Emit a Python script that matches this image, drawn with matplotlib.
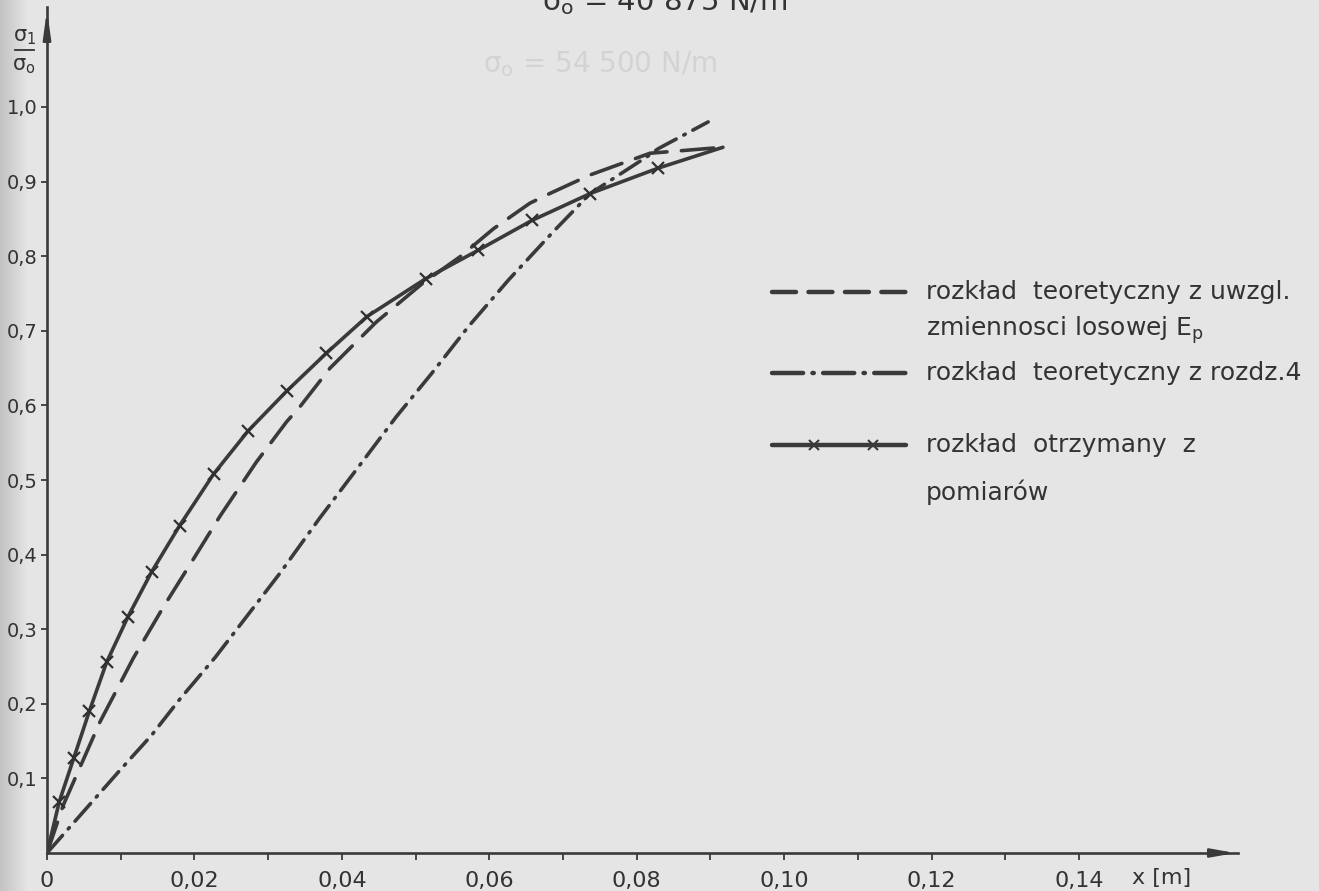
import numpy as np
import matplotlib
matplotlib.use("Agg")
import matplotlib.pyplot as plt
from matplotlib.lines import Line2D

# sigma_1/sigma_0 against distance x [m]
x_ep = [0, 0.0022, 0.0072, 0.0117, 0.0158, 0.0198, 0.0235, 0.0284, 0.0325, 0.0343,
        0.0384, 0.0447, 0.0510, 0.0560, 0.0606, 0.0655, 0.0682, 0.0737, 0.0818, 0.0917]
y_ep = [0, 0.064, 0.176, 0.261, 0.330, 0.393, 0.452, 0.524, 0.578, 0.598,
        0.650, 0.712, 0.764, 0.799, 0.837, 0.871, 0.884, 0.909, 0.938, 0.946]

x_r4 = [0, 0.0099, 0.0142, 0.0180, 0.0228, 0.0316, 0.0370, 0.0429, 0.0474, 0.0522,
        0.0572, 0.0626, 0.0687, 0.0737, 0.0818, 0.0829, 0.0897]
y_r4 = [0, 0.111, 0.158, 0.206, 0.262, 0.375, 0.449, 0.526, 0.585, 0.643,
        0.706, 0.768, 0.833, 0.884, 0.936, 0.944, 0.980]

x_meas = [0.00167, 0.00366, 0.00574, 0.0081, 0.0110, 0.0142, 0.0180, 0.0226, 0.0273,
          0.0325, 0.0379, 0.0434, 0.0514, 0.0585, 0.0658, 0.0737, 0.0829]
y_meas = [0.069, 0.128, 0.190, 0.256, 0.317, 0.377, 0.439, 0.508, 0.566,
          0.619, 0.670, 0.719, 0.770, 0.808, 0.848, 0.884, 0.918]
x_meas_end = 0.0917
y_meas_end = 0.946

xticks = [0, 0.02, 0.04, 0.06, 0.08, 0.10, 0.12, 0.14]
xticklabels = ["0", "0,02", "0,04", "0,06", "0,08", "0,10", "0,12", "0,14"]
yticks = [0.1, 0.2, 0.3, 0.4, 0.5, 0.6, 0.7, 0.8, 0.9, 1.0]
yticklabels = ["0,1", "0,2", "0,3", "0,4", "0,5", "0,6", "0,7", "0,8", "0,9", "1,0"]

legend_texts = ["rozkład  teoretyczny z uwzgl.", "zmiennosci losowej E$_\\mathregular{p}$",
                "rozkład  teoretyczny z rozdz.4", "rozkład  otrzymany  z", "pomiarów"]

W, H = 1319, 891
ink = "#3a3a3a"
txt = "#333333"
paper = "#e4e4e2"
show_through = "#d3d3d1"
narrow = ["Liberation Sans Narrow", "DejaVu Sans"]

fig = plt.figure(figsize=(W / 100, H / 100), dpi=100, facecolor=paper)

# paper shading, darker strip on the left edge
bg = fig.add_axes([0, 0, 1, 1], zorder=-5)
shade = np.full(W, 0.895)
shade[:28] = np.linspace(0.76, 0.895, 28)
bg.imshow(np.tile(shade, (8, 1)), cmap="gray", vmin=0, vmax=1, aspect="auto",
          extent=[0, W, H, 0])
bg.set_xlim(0, W)
bg.set_ylim(H, 0)
bg.axis("off")
# heading of the next sheet showing through the paper
bg.text(600, 64, "σ$_\\mathregular{o}$ = 54 500 N/m", fontsize=20, color=show_through,
        ha="center", va="center")

# main axes: origin at (47, 853) px, 0.01 m = 73.7 px, 0.1 = 74.6 px
x0, y0 = 47, 853
sx, sy = 7371.0, 746.0
xtip = (1238 - x0) / sx
ytip = (y0 - 7) / sy
ax = fig.add_axes([x0 / W, (H - y0) / H, (1238 - x0) / W, (y0 - 7) / H])
ax.set_facecolor("none")
ax.set_xlim(0, xtip)
ax.set_ylim(0, ytip)
for s in ["top", "right"]:
    ax.spines[s].set_visible(False)
for s in ["left", "bottom"]:
    ax.spines[s].set_color(ink)
    ax.spines[s].set_linewidth(1.9)

ax.set_xticks(xticks)
ax.set_xticklabels(xticklabels)
ax.set_xticks(np.arange(0.01, 0.15, 0.02), minor=True)
ax.set_yticks(yticks)
ax.set_yticklabels(yticklabels)
ax.tick_params(axis="both", which="both", direction="out", color=ink, width=1.3,
               labelcolor=txt)
ax.tick_params(axis="x", which="both", length=5, pad=8, labelsize=16)
ax.tick_params(axis="y", length=4, pad=3, labelsize=14)
for lab in ax.get_xticklabels() + ax.get_yticklabels():
    lab.set_family(narrow)

# arrow heads
ax.annotate("", xy=(xtip, 0), xytext=(xtip - 0.004, 0), annotation_clip=False,
            arrowprops=dict(arrowstyle="-|>,head_length=1.4,head_width=0.25",
                            color=ink, lw=1.9))
ax.annotate("", xy=(0, ytip), xytext=(0, ytip - 0.05), annotation_clip=False,
            arrowprops=dict(arrowstyle="-|>,head_length=1.6,head_width=0.22",
                            color=ink, lw=1.9))

lw = 2.6
ax.plot(x_ep, y_ep, color=ink, lw=lw, ls=(0, (9, 4)), dash_capstyle="round")
ax.plot(x_r4, y_r4, color=ink, lw=lw, ls=(0, (6.5, 2.4, 0.45, 2.4)),
        dash_capstyle="round")
ax.plot([0] + x_meas + [x_meas_end], [0] + y_meas + [y_meas_end], color=ink, lw=lw,
        solid_capstyle="round")
ax.plot(x_meas, y_meas, ls="none", marker="x", ms=9, mew=1.6, color="#303030")

# annotation layer in pixel coordinates
ov = fig.add_axes([0, 0, 1, 1], zorder=5)
ov.set_xlim(0, W)
ov.set_ylim(H, 0)
ov.axis("off")
ov.patch.set_visible(False)

ov.text(665, 10, "σ$_\\mathregular{o}$ = 40 875 N/m", fontsize=21, color=txt,
        ha="center", va="baseline")
ov.text(1162, 878, "x [m]", fontsize=16, color=txt, ha="center", va="center",
        family=narrow)

# y axis quantity as a fraction
ov.text(25, 41, "σ$_\\mathregular{1}$", fontsize=15, color=txt, ha="center",
        va="baseline")
ov.add_line(Line2D([15, 34], [50, 50], color=txt, lw=1.3))
ov.text(24, 70, "σ$_\\mathregular{o}$", fontsize=15, color=txt, ha="center",
        va="baseline")

# legend
ov.add_line(Line2D([772, 906], [292, 292], color=ink, lw=3.2,
                   ls=(0, (5.4, 2.8)), dash_capstyle="round"))
ov.add_line(Line2D([772, 906], [373, 373], color=ink, lw=3.2,
                   ls=(0, (7.0, 2.1, 0.3, 2.1)), dash_capstyle="round"))
ov.add_line(Line2D([772, 906], [445, 445], color=ink, lw=3.2, solid_capstyle="round"))
ov.plot([814, 873], [445, 445], ls="none", marker="x", ms=7, mew=1.5, color=ink)
ty = [292, 330, 373, 445, 492]
for t, yy in zip(legend_texts, ty):
    ov.text(926, yy, t, fontsize=18, color=txt, va="center", ha="left")

fig.savefig("out.png", dpi=100, facecolor=paper)
